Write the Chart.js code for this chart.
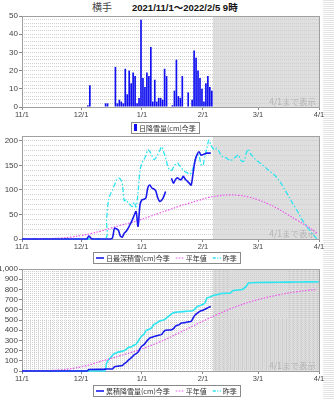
<!DOCTYPE html>
<html><head><meta charset="utf-8">
<script src="https://cdn.jsdelivr.net/npm/chart.js@4/dist/chart.umd.min.js"></script>
<style>
html,body{margin:0;padding:0;background:#fff;}
#wrap{position:relative;width:334px;height:400px;overflow:hidden;font-family:"Liberation Sans",Arial,sans-serif;}
canvas{position:absolute;left:0;}
#title{position:absolute;top:1px;left:92px;font-size:10px;line-height:12px;color:#444;white-space:nowrap;font-family:"Noto Sans CJK JP","Liberation Sans",sans-serif;}
#title b{font-family:"Liberation Sans","Noto Sans CJK JP",sans-serif;font-size:9.5px;color:#111;}
#strip{position:absolute;left:323px;top:0;width:11px;height:400px;background:repeating-linear-gradient(0deg,#fff 0 1px,#e4e4e4 1px 2px);}
</style></head><body>
<div id="wrap">
<div id="strip"></div>
<div id="title">横手　　<b>2021/11/1～2022/2/5 9時</b></div>
<canvas id="c1" width="334" height="136" style="top:0px"></canvas>
<canvas id="c2" width="334" height="138" style="top:128px"></canvas>
<canvas id="c3" width="334" height="142" style="top:258px"></canvas>
</div>
<script>
// ---- data (day index 0 = 11/1) ----
const monthTicks = [0, 30, 61, 92, 120, 151];
const monthLabels = ['11/1', '12/1', '1/1', '2/1', '3/1', '4/1'];
const shadeFromDay = 97;           // 2/6: no data after 2/5
const noteText = '4/1まで表示';

// daily snowfall this season (cm), 11/1 .. 2/5
const dailySnow = [
  0,0,0,0,0,0,0,0,0,0,
  0,0,0,0,0,0,0,0,0,0,
  0,0,0,0,0,0,0,0,0,0,
  0,0,0,1,12,0,0,0,0,0,
  0,0,2,2,0,0,0,22,2,4,
  3,2,21,7,20,13,19,17,2,5,
  48,16,11,19,17,33,3,15,3,5,
  5,4,21,17,0,0,1,9,26,6,
  5,17,0,0,8,0,4,31,27,20,
  16,10,3,13,17,11,9
];

// daily max snow depth this season (cm), 11/1 .. 2/5 (null = missing)
const depthNow = [
  0,0,0,0,0,0,0,0,0,0,
  0,0,0,0,0,0,0,0,0,0,
  0,0,0,0,0,0,0,0,0,0,
  0,0,0,0,6,2,0,0,0,0,
  0,0,0,0,0,0,2,22,21,18,
  6,4,12,16,22,30,38,48,56,26,
  70,80,81,84,105,110,104,102,98,84,
  77,79,86,97,null,null,124,114,121,125,
  122,121,128,122,118,114,110,135,160,172,
  178,171,172,174,175,175,175
];

// last season snow depth [day, cm]
const depthPrev = [[0,0],[42,0],[43,40],[44,80],[45,92],[46,100],[47,110],[48,120],[49,124],[50,122],[51,112],[52,78],[53,80],[54,73],[55,70],[56,66],[57,75],[58,65],[59,95],[60,140],[61,155],[62,162],[63,170],[64,182],[65,178],[66,170],[67,162],[68,165],[69,172],[70,180],[71,188],[72,178],[73,165],[74,150],[75,141],[76,140],[77,146],[78,152],[79,155],[80,150],[81,145],[82,140],[83,137],[84,135],[85,132],[86,135],[87,145],[88,160],[89,172],[90,170],[91,152],[92,150],[93,170],[94,185],[95,202],[96,192],[97,185],[98,182],[99,185],[100,180],[101,172],[102,168],[104,165],[106,160],[108,165],[110,171],[111,162],[112,158],[113,160],[114,175],[115,183],[116,175],[118,165],[120,158],[122,152],[124,145],[126,138],[128,132],[130,123],[132,112],[134,98],[136,84],[138,70],[140,57],[142,42],[144,30],[146,19],[148,9],[150,0]];

// normal snow depth [day, cm]
const depthNormal = [[0,0],[5,0],[10,0.5],[15,1],[20,2],[25,4],[30,7],[35,11],[40,16],[45,22],[50,28],[55,33],[60,39],[65,46],[70,53],[75,60],[80,67],[85,73],[90,79],[95,85],[100,88],[105,90],[110,89],[115,86],[120,80],[125,72],[130,62],[135,50],[140,38],[145,26],[150,12]];

// cumulative snowfall this season [day, cm]
const cumNow = [[0,0],[33,0],[34,14],[41,16],[42,18],[43,20],[46,20],[47,42],[49,48],[51,55],[52,72],[53,85],[54,105],[55,120],[56,138],[57,158],[58,170],[59,185],[60,220],[61,245],[62,258],[63,282],[64,305],[65,325],[66,330],[67,338],[68,342],[69,348],[70,352],[71,358],[72,385],[73,400],[75,402],[76,405],[77,415],[78,440],[79,448],[80,455],[81,470],[83,474],[84,480],[86,486],[87,520],[88,548],[89,566],[90,580],[91,590],[92,595],[93,606],[94,616],[95,625],[96,632]];

// cumulative snowfall last season [day, cm]
const cumPrev = [[0,0],[42,0],[43,75],[44,110],[45,130],[46,155],[47,170],[48,178],[49,185],[51,195],[52,200],[53,212],[54,230],[55,235],[56,240],[57,255],[58,262],[59,290],[60,320],[61,345],[62,360],[63,395],[64,405],[65,412],[66,425],[67,455],[68,465],[69,478],[70,490],[71,496],[72,500],[73,510],[74,530],[75,542],[76,560],[77,570],[78,575],[79,578],[80,580],[83,585],[86,588],[87,592],[88,610],[89,630],[90,640],[91,645],[92,655],[93,665],[94,715],[95,722],[96,728],[97,740],[98,742],[100,752],[101,760],[104,762],[106,765],[107,785],[109,792],[112,800],[114,830],[115,860],[117,865],[120,868],[130,870],[140,872],[151,875]];

// normal cumulative snowfall [day, cm]
const cumNormal = [[0,0],[10,2],[20,12],[30,40],[40,95],[50,150],[60,210],[70,285],[80,375],[90,470],[100,560],[110,640],[120,700],[130,745],[140,778],[150,800]];

// ---- helpers ----
const FONT = '"Liberation Sans", Arial, sans-serif';
const JFONT = '"Noto Sans CJK JP", "Liberation Sans", sans-serif';
const COL_NOW = '#1a1aee', COL_NORM = '#ee55ee', COL_PREV = '#2ee4f0';
const pairs = a => a.map(([x, y]) => ({x, y}));

const deco = {
  id: 'deco',
  beforeDraw(chart, args, o) {
    const {ctx, chartArea: a, scales: {x}} = chart;
    ctx.save();
    ctx.fillStyle = '#fff';
    ctx.fillRect(a.left, a.top, a.width, a.height);
    const sx = x.getPixelForValue(shadeFromDay);
    ctx.fillStyle = '#dedede';
    ctx.fillRect(sx, a.top, a.right - sx, a.height);
    if (o.vstep) {
      ctx.strokeStyle = 'rgba(0,0,0,0.10)';
      ctx.setLineDash([1, 1]);
      ctx.lineWidth = 1;
      for (let d = o.vstep; d < 151; d += o.vstep) {
        const px = Math.round(x.getPixelForValue(d)) + 0.5;
        ctx.beginPath(); ctx.moveTo(px, a.top); ctx.lineTo(px, a.bottom); ctx.stroke();
      }
    }
    ctx.restore();
  },
  beforeDatasetsDraw(chart) {
    const {ctx, chartArea: a} = chart;
    ctx.save();
    ctx.font = '8.5px ' + JFONT;
    ctx.fillStyle = '#b4b4b4';
    ctx.textAlign = 'right';
    ctx.textBaseline = 'alphabetic';
    ctx.fillText(noteText, a.right - 3, a.bottom - 2);
    ctx.strokeStyle = '#a0a0a0';
    ctx.lineWidth = 1;
    ctx.strokeRect(Math.round(a.left) + 0.5, Math.round(a.top) + 0.5, Math.round(a.width), Math.round(a.height));
    ctx.restore();
  },
  afterDraw(chart, args, o) {
    const L = o.legend;
    if (!L) return;
    const ctx = chart.ctx;
    ctx.save();
    ctx.font = '7px ' + JFONT;
    const sample = 8, gapT = 2, gapI = 6, pad = 3, h = 11;
    const widths = L.items.map(it => (it.type === 'bar' ? 3 : sample) + gapT + ctx.measureText(it.text).width);
    const total = widths.reduce((s, w) => s + w, 0) + gapI * (L.items.length - 1) + pad * 2;
    const x0 = Math.round(L.cx - total / 2);
    const yTop = Math.round(L.cy - h / 2);
    ctx.fillStyle = '#fff';
    ctx.fillRect(x0, yTop, total, h);
    ctx.strokeStyle = '#8a8a8a';
    ctx.lineWidth = 1;
    ctx.strokeRect(x0 + 0.5, yTop + 0.5, Math.round(total), h);
    let cx = x0 + pad;
    const cy = yTop + h / 2 + 0.5;
    L.items.forEach((it, i) => {
      if (it.type === 'bar') {
        ctx.fillStyle = it.color;
        ctx.fillRect(cx, cy - 4, 3, 7);
        cx += 3;
      } else {
        ctx.strokeStyle = it.color;
        ctx.lineWidth = it.width || 1.5;
        ctx.setLineDash(it.dash || []);
        ctx.beginPath(); ctx.moveTo(cx, Math.round(cy)); ctx.lineTo(cx + sample, Math.round(cy)); ctx.stroke();
        ctx.setLineDash([]);
        cx += sample;
      }
      cx += gapT;
      ctx.fillStyle = '#333';
      ctx.textBaseline = 'middle';
      ctx.textAlign = 'left';
      ctx.fillText(it.text, cx, cy);
      cx += ctx.measureText(it.text).width + gapI;
    });
    ctx.restore();
  }
};

function xAxis() {
  return {
    type: 'linear', min: 0, max: 151, offset: false,
    afterFit(s) { s.height = 12; },
    afterBuildTicks(s) { s.ticks = monthTicks.map(v => ({value: v})); },
    ticks: {autoSkip: false, maxRotation: 0, minRotation: 0, padding: 0, color: '#444',
      font: {family: FONT, size: 7.5},
      callback: (v, i) => monthLabels[i]},
    grid: {drawOnChartArea: false, tickLength: 3, tickColor: '#888', offset: false},
    border: {display: false}
  };
}

function yAxis(max, minor, major, fmt) {
  return {
    type: 'linear', min: 0, max: max,
    afterFit(s) { s.width = 22; },
    ticks: {stepSize: minor, autoSkip: false, maxTicksLimit: 300, padding: 1, color: '#444',
      font: {family: FONT, size: 8},
      callback: v => (v % major === 0 ? fmt(v) : '')},
    grid: {color: '#cfcfcf', lineWidth: 1, tickLength: 3,
      tickColor: c => (c.tick && c.tick.value % major === 0) ? '#888' : 'rgba(0,0,0,0)'},
    border: {display: false, dash: [1, 1]}
  };
}

function baseOptions(pad, yax, extra) {
  return {
    responsive: false, animation: false, devicePixelRatio: 1,
    layout: {padding: {left: 0, right: 15, top: pad.top, bottom: pad.bottom}},
    plugins: {legend: {display: false}, tooltip: {enabled: false}, title: {display: false}, deco: extra},
    scales: {x: xAxis(), y: yax},
    elements: {point: {radius: 0}}
  };
}

function lineSet(label, data, color, width, dash, tension) {
  return {label, data, borderColor: color, backgroundColor: color, borderWidth: width,
    borderDash: dash || [], pointRadius: 0, tension: tension, spanGaps: false, clip: 3, fill: false};
}

// ---- chart 1: daily snowfall ----
new Chart(document.getElementById('c1'), {
  type: 'bar',
  data: {datasets: [{
    label: '日降雪量(cm)今季',
    data: dailySnow.map((v, i) => ({x: i + 0.5, y: v})),
    backgroundColor: '#1010f0', borderWidth: 0,
    barPercentage: 0.85, categoryPercentage: 1, grouped: false
  }]},
  options: baseOptions({top: 16, bottom: 17}, yAxis(50, 2, 10, v => String(v)),
    {legend: {cx: 165, cy: 127, items: [{type: 'bar', color: '#1010f0', text: '日降雪量(cm)今季'}]}}),
  plugins: [deco]
});

// ---- chart 2: snow depth ----
new Chart(document.getElementById('c2'), {
  type: 'line',
  data: {datasets: [
    lineSet('日最深積雪(cm)今季', depthNow.map((v, i) => ({x: i, y: v})), COL_NOW, 1.6, [], 0.3),
    lineSet('平年値', pairs(depthNormal), COL_NORM, 1.2, [1.5, 1.5], 0.4),
    lineSet('昨季', pairs(depthPrev), COL_PREV, 1.3, [5, 2, 1.5, 2], 0.3)
  ]},
  options: baseOptions({top: 8, bottom: 15}, yAxis(210, 10, 50, v => String(v)),
    {legend: {cx: 166, cy: 129.5, items: [
      {type: 'line', color: COL_NOW, width: 1.6, text: '日最深積雪(cm)今季'},
      {type: 'line', color: COL_NORM, width: 1.2, dash: [1.5, 1.5], text: '平年値'},
      {type: 'line', color: COL_PREV, width: 1.3, dash: [3, 1.5, 1, 1.5], text: '昨季'}]}}),
  plugins: [deco]
});

// ---- chart 3: cumulative snowfall ----
new Chart(document.getElementById('c3'), {
  type: 'line',
  data: {datasets: [
    lineSet('累積降雪量(cm)今季', pairs(cumNow), COL_NOW, 1.6, [], 0.2),
    lineSet('平年値', pairs(cumNormal), COL_NORM, 1.2, [1.5, 1.5], 0.4),
    lineSet('昨季', pairs(cumPrev), COL_PREV, 1.6, [], 0.2)
  ]},
  options: baseOptions({top: 11, bottom: 17}, yAxis(1000, 20, 100, v => v.toLocaleString('en-US')),
    {vstep: 2, legend: {cx: 166, cy: 132.5, items: [
      {type: 'line', color: COL_NOW, width: 1.6, text: '累積降雪量(cm)今季'},
      {type: 'line', color: COL_NORM, width: 1.2, dash: [1.5, 1.5], text: '平年値'},
      {type: 'line', color: COL_PREV, width: 1.3, dash: [3, 1.5, 1, 1.5], text: '昨季'}]}}),
  plugins: [deco]
});
</script>
</body></html>
